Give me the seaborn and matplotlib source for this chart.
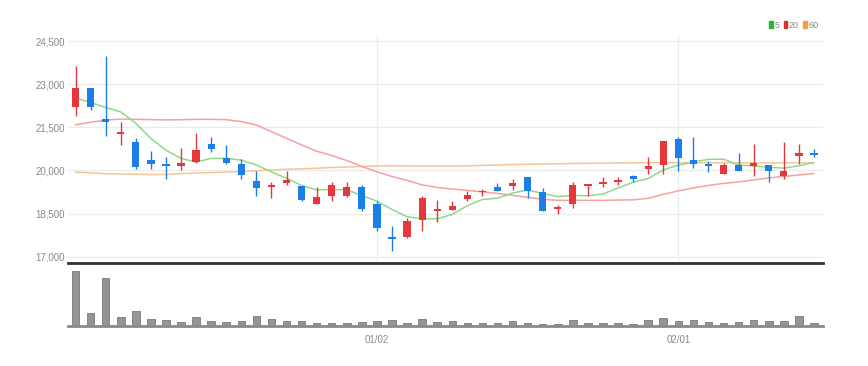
import numpy as np
import pandas as pd
import matplotlib
matplotlib.use("Agg")
import matplotlib.pyplot as plt
from matplotlib.patches import Rectangle
import seaborn as sns

# ---------------- data ----------------
opens = [22220, 22870, 21790, 21260, 20990, 20360, 20240, 20160, 20290, 20920,
         20450, 20230, 19630, 19440, 19575, 19450, 18850, 19100, 19100, 19410,
         18845, 17690, 17680, 18270, 18605, 18640, 19020, 19240, 19410, 19470,
         19770, 19240, 18660, 18820, 19460, 19525, 19585, 19825, 20045, 20200,
         21095, 20380, 20210, 19860, 20195, 20160, 20195, 19805, 20510, 20600]
highs = [23630, 22880, 23980, 21670, 21120, 20690, 20460, 20790, 21300, 21150,
         20900, 20400, 19980, 19595, 19965, 19450, 19410, 19595, 19585, 19480,
         18925, 18085, 18330, 19125, 18960, 18940, 19270, 19340, 19550, 19710,
         19775, 19380, 18790, 19585, 19505, 19760, 19770, 19830, 20460, 21040,
         21155, 21155, 20345, 20265, 20600, 20925, 20200, 20980, 20925, 20750]
lows = [21900, 22110, 21210, 20900, 20060, 20035, 19710, 20000, 20250, 20660,
        20230, 19690, 19100, 19055, 19480, 18935, 18820, 18925, 19075, 18590,
        17885, 17205, 17655, 17885, 18210, 18615, 18935, 19125, 19270, 19330,
        19055, 18590, 18475, 18710, 19110, 19420, 19505, 19595, 19885, 19860,
        19965, 20090, 19940, 19860, 19990, 19815, 19595, 19690, 20230, 20460]
closes = [22870, 22195, 21670, 21330, 20130, 20240, 20160, 20250, 20700, 20750,
          20250, 19850, 19400, 19500, 19655, 18985, 19075, 19480, 19435, 18660,
          18015, 17620, 18233, 19055, 18675, 18765, 19160, 19300, 19275, 19575,
          19285, 18590, 18730, 19480, 19505, 19595, 19655, 19700, 20140, 21015,
          20425, 20210, 20140, 20185, 19990, 20265, 19990, 19975, 20600, 20555]
volumes = [1100, 254, 966, 174, 294, 140, 126, 86, 174, 100,
           86, 94, 194, 134, 100, 94, 60, 66, 66, 86,
           100, 126, 60, 134, 90, 94, 66, 54, 66, 94,
           66, 46, 46, 114, 66, 66, 66, 46, 126, 166,
           94, 120, 80, 60, 86, 126, 100, 106, 194, 54]
# first four 5-day averages (earlier closes are off-chart)
ma5_head = [22520, 22370, 22190, 22040]
ma20 = [21590, 21680, 21750, 21790, 21780, 21770, 21760, 21767, 21780, 21780,
        21767, 21700, 21583, 21350, 21120, 20890, 20670, 20520, 20346, 20139,
        19955, 19792, 19654, 19498, 19411, 19352, 19307, 19255, 19203, 19134,
        19065, 18995, 18961, 18961, 18961, 18961, 18970, 18978, 19030, 19170,
        19290, 19394, 19480, 19550, 19602, 19671, 19740, 19792, 19844, 19896]
ma60 = [19942, 19920, 19886, 19880, 19870, 19860, 19860, 19890, 19913, 19930,
        19942, 19965, 19990, 20017, 20040, 20058, 20080, 20104, 20120, 20139,
        20156, 20163, 20158, 20156, 20156, 20156, 20160, 20173, 20190, 20208,
        20215, 20225, 20236, 20242, 20250, 20255, 20260, 20265, 20268, 20270,
        20270, 20270, 20270, 20268, 20268, 20266, 20266, 20265, 20265, 20265]
tick_idx = [20, 40]
tick_labels = ["01/02", "02/01"]
y_ticks = [17000, 18500, 20000, 21500, 23000, 24500]

# ---------------- styling ----------------
RED = "#e5383c"
BLUE = "#1c7fe6"
GREEN = "#8ed98a"
PINK = "#f4a2a2"
ORANGE = "#f5c597"
LABEL = "#8a8a8a"

sns.set_theme(style="white")
plt.rcParams["font.family"] = ["Liberation Sans Narrow", "Liberation Sans", "DejaVu Sans"]

df = pd.DataFrame({"i": np.arange(len(closes)), "open": opens, "high": highs,
                   "low": lows, "close": closes, "vol": volumes,
                   "ma20": ma20, "ma60": ma60})
ma5 = df["close"].rolling(5).mean()
ma5.iloc[:4] = ma5_head
df["ma5"] = ma5

fig = plt.figure(figsize=(8.68, 3.66), dpi=100)
ax = fig.add_axes([68 / 868, 1 - 263 / 366, (823 - 68) / 868, (263 - 36) / 366])
axv = fig.add_axes([68 / 868, 1 - 326 / 366, (823 - 68) / 868, (326 - 268) / 366])

# price panel
for y in y_ticks:
    ax.axhline(y, color="#ececec", lw=1, zorder=0)
for t in tick_idx:
    ax.axvline(t, color="#ececec", lw=0.8, zorder=0)

sns.lineplot(data=df, x="i", y="ma60", ax=ax, color=ORANGE, lw=1.1, zorder=2)
sns.lineplot(data=df, x="i", y="ma20", ax=ax, color=PINK, lw=1.1, zorder=2)
sns.lineplot(data=df, x="i", y="ma5", ax=ax, color=GREEN, lw=1.1, zorder=2)

up = df["close"] >= df["open"]
colors = np.where(up, RED, BLUE)
ax.vlines(df["i"], df["low"], df["high"], colors=colors, lw=1, zorder=3)
body_lo = np.minimum(df["open"], df["close"])
body_h = np.maximum(np.abs(df["close"] - df["open"]), 60)
ax.bar(df["i"], body_h, bottom=body_lo, width=0.48, color=colors, zorder=4, linewidth=0)

ax.set_xlim(-0.5, 49.6)
ax.set_ylim(16780, 24680)
ax.set_yticks(y_ticks)
ax.set_yticklabels([f"{v:,}" for v in y_ticks], fontsize=7, color=LABEL)
ax.tick_params(axis="y", length=0, pad=2)
ax.set_xticks([])
ax.set_xlabel("")
ax.set_ylabel("")
for s in ["top", "right", "left"]:
    ax.spines[s].set_visible(False)
ax.spines["bottom"].set_color("#333333")
ax.spines["bottom"].set_linewidth(2)

# volume panel
sns.barplot(data=df, x="i", y="vol", ax=axv, native_scale=True, color="#959595",
            edgecolor="#7a7a7a", linewidth=0.6, width=0.5, saturation=1)
axv.set_xlim(-0.5, 49.6)
axv.set_ylim(0, max(volumes) * 58 / 55)
axv.set_yticks([])
axv.set_xticks(tick_idx)
axv.set_xticklabels(tick_labels, fontsize=7, color=LABEL)
axv.tick_params(axis="x", length=3.5, width=1, color="#444444", pad=3, direction="out")
axv.set_xlabel("")
axv.set_ylabel("")
for s in ["top", "right", "left"]:
    axv.spines[s].set_visible(False)
axv.spines["bottom"].set_color("#8a8a8a")
axv.spines["bottom"].set_linewidth(2)

# legend
handles = [Rectangle((0, 0), 1, 1, color=c) for c in ["#2db52d", "#e03030", "#f0a040"]]
fig.legend(handles, ["5", "20", "60"], loc="center right",
           bbox_to_anchor=(823 / 868, 1 - 25 / 366), ncol=3, frameon=False,
           fontsize=6.5, handlelength=0.35, handleheight=0.9, handletextpad=0.2,
           columnspacing=0.5, labelcolor=LABEL, borderpad=0)

fig.savefig("out.png", dpi=100)
